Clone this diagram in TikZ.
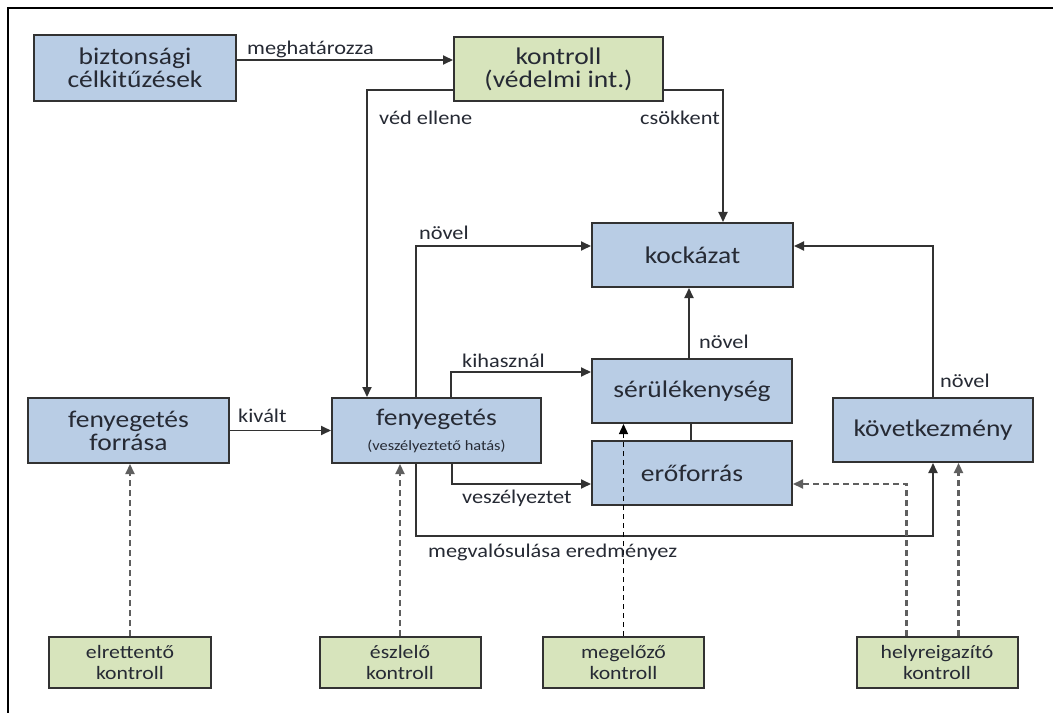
\documentclass[tikz,border=0pt]{standalone}
\usepackage{fontspec}
\setmainfont{Carlito}[FakeStretch=1.15]
\usetikzlibrary{arrows.meta,calc}
\definecolor{boxblue}{RGB}{185,205,229}
\definecolor{boxgreen}{RGB}{215,228,188}
\definecolor{edgegray}{RGB}{50,50,50}
\definecolor{txt}{RGB}{38,42,52}
\definecolor{dashgray}{RGB}{95,95,95}
\begin{document}
\begin{tikzpicture}[x=1bp,y=-1bp,
  bluebox/.style={draw=edgegray,line width=2bp,fill=boxblue,inner sep=0pt,align=center,text=txt,
    font=\fontsize{24}{23}\selectfont},
  greenbox/.style={draw=edgegray,line width=2bp,fill=boxgreen,inner sep=0pt,align=center,text=txt},
  ctrlbox/.style={greenbox,minimum width=161bp,minimum height=51bp,font=\fontsize{19}{22}\selectfont},
  conn/.style={draw=edgegray,line width=1.8bp,-{Triangle[length=10bp,width=9bp]}},
  plainconn/.style={draw=edgegray,line width=1.8bp},
  dconn/.style={draw=dashgray,line width=2.2bp,dash pattern=on 6bp off 4bp,-{Triangle[length=10bp,width=9bp]}},
  thindconn/.style={draw=black,line width=1.3bp,dash pattern=on 5bp off 4bp,-{Triangle[length=10bp,width=9bp]}},
  lbl/.style={inner sep=0pt,anchor=base west,text=txt,font=\fontsize{19.5}{22}\selectfont}]
\useasboundingbox (0,0) rectangle (1053,713);
\fill[white] (0,0) rectangle (1053,713);
% frame
\draw[line width=1.8bp] (8,713) -- (8,8) -- (1053,8);
% main boxes
\node[bluebox,minimum width=202bp,minimum height=66bp] (bizt) at (135,68) {biztonsági\\célkitűzések};
\node[greenbox,minimum width=209bp,minimum height=64bp,font=\fontsize{24}{23}\selectfont] (kontroll) at (558.5,69) {kontroll\\(védelmi int.)};
\node[bluebox,minimum width=201bp,minimum height=64bp] (kock) at (692.5,255) {kockázat};
\node[bluebox,minimum width=200bp,minimum height=64bp] (serul) at (692,391) {sérülékenység};
\node[bluebox,minimum width=200bp,minimum height=64bp] (ero) at (692,473) {erőforrás};
\node[bluebox,minimum width=200bp,minimum height=64bp] (kovet) at (933,430) {következmény};
\node[bluebox,minimum width=201bp,minimum height=65bp] (forras) at (128.5,430.5) {fenyegetés\\forrása};
\node[bluebox,minimum width=209bp,minimum height=65bp] (feny) at (436.5,430.5) {fenyegetés\\[2bp]{\fontsize{14.3}{16}\selectfont (veszélyeztető hatás)}};
% control boxes
\node[ctrlbox] (elr) at (130,662.5) {elrettentő\\kontroll};
\node[ctrlbox] (eszl) at (400,662.5) {észlelő\\kontroll};
\node[ctrlbox] (meg) at (623.5,662.5) {megelőző\\kontroll};
\node[ctrlbox] (hely) at (937,662.5) {helyreigazító\\kontroll};
% connectors
\draw[conn] ($(bizt.north east)+(0,26)$) -- ($(kontroll.north west)+(0,24)$);
\draw[conn] ($(kontroll.south west)+(0,-12)$) -| ($(feny.north west)+(36,0)$);
\draw[conn] ($(kontroll.south east)+(0,-12)$) -| ($(kock.north west)+(132,0)$);
\draw[conn] ($(feny.north west)+(85,0)$) |- ($(kock.north west)+(0,24)$);
\coordinate (sv) at ($(serul.north west)+(98,0)$);
\draw[conn] (sv) -- (sv |- kock.south);
\draw[conn] (kovet.north) |- ($(kock.north east)+(0,24)$);
\draw[conn] ($(feny.north west)+(120,0)$) |- ($(serul.north west)+(0,14)$);
\draw[conn] ($(feny.south west)+(121,0)$) |- ($(ero.north west)+(0,44)$);
\draw[conn] ($(feny.south west)+(85,0)$) -- ++(0,72) -| (kovet.south);
\draw[plainconn] ($(serul.south west)+(100,0)$) -- ($(ero.north west)+(100,0)$);
\draw[conn] (forras.east) -- (feny.west);
% dashed control connectors
\draw[dconn] (elr.north) -- (elr.north |- forras.south);
\draw[dconn] (eszl.north) -- (eszl.north |- feny.south);
\draw[thindconn] (meg.north) -- (meg.north |- serul.south);
\draw[dconn] ($(hely.north west)+(51,0)$) |- ($(ero.north east)+(0,44)$);
\coordinate (hv) at ($(hely.north west)+(103,0)$);
\draw[dconn] (hv) -- (hv |- kovet.south);
% labels
\node[lbl] (l1) at (247,55) {meghatározza};
\node[lbl] (l2) at (379,125) {véd ellene};
\node[lbl,anchor=base east] (l3) at (720,125) {csökkent};
\node[lbl] (l4) at (419,239) {növel};
\node[lbl] (l5) at (699,348) {növel};
\node[lbl] (l6) at (940,387) {növel};
\node[lbl] (l7) at (462,367) {kihasznál};
\node[lbl] (l8) at (462,503) {veszélyeztet};
\node[lbl] (l9) at (428,557) {megvalósulása eredményez};
\node[lbl] (l10) at (238,422) {kivált};
\end{tikzpicture}
\end{document}
